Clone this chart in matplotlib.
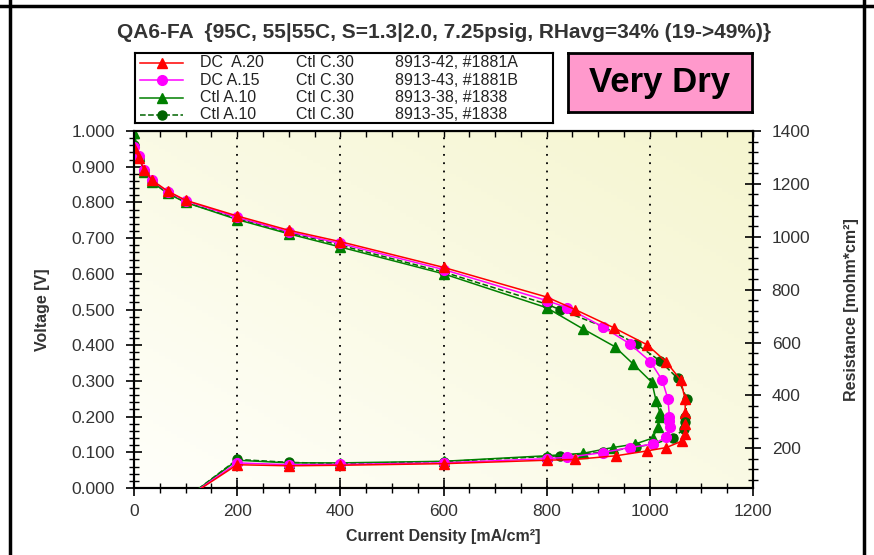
import numpy as np
import matplotlib.pyplot as plt
from matplotlib.colors import LinearSegmentedColormap
from matplotlib.ticker import MultipleLocator, FormatStrFormatter
from matplotlib.lines import Line2D

plt.rcParams['font.family'] = ['Liberation Sans', 'DejaVu Sans']

# 8913-42  DC A.20 / Ctl C.30  (#1881A)
j_42 = [0, 10, 20, 35, 65, 100, 200, 300, 400, 600, 800, 855, 930, 995, 1032, 1060, 1068, 1069]
v_42 = [0.952, 0.925, 0.890, 0.862, 0.832, 0.806, 0.762, 0.722, 0.690, 0.618, 0.535, 0.500,
        0.449, 0.401, 0.353, 0.302, 0.250, 0.210]
jr_42 = [100, 200, 300, 400, 600, 800, 855, 935, 994, 1032, 1063, 1068, 1069]
r_42 = [10, 138, 134, 136, 142, 155, 158, 172, 190, 203, 228, 253, 293]

# 8913-43  DC A.15 / Ctl C.30  (#1881B)
j_43 = [0, 10, 20, 35, 65, 100, 200, 300, 400, 600, 800, 840, 909, 961, 1001, 1024, 1035, 1038]
v_43 = [0.955, 0.930, 0.892, 0.862, 0.830, 0.805, 0.758, 0.718, 0.685, 0.612, 0.525, 0.505,
        0.451, 0.404, 0.354, 0.302, 0.250, 0.200]
jr_43 = [100, 200, 300, 400, 600, 800, 840, 909, 961, 1006, 1032, 1039, 1038]
r_43 = [10, 145, 138, 139, 145, 161, 166, 184, 203, 216, 242, 280, 305]

# 8913-38  Ctl A.10 / Ctl C.30  (#1838)
j_38 = [0, 10, 20, 35, 65, 100, 200, 300, 400, 600, 800, 870, 932, 968, 1004, 1012, 1020]
v_38 = [0.995, 0.930, 0.885, 0.857, 0.825, 0.800, 0.752, 0.712, 0.675, 0.600, 0.505, 0.446,
        0.396, 0.347, 0.296, 0.245, 0.210]
jr_38 = [100, 200, 300, 400, 600, 800, 870, 928, 971, 1006, 1015, 1020]
r_38 = [10, 155, 145, 145, 151, 172, 181, 203, 216, 239, 280, 317]

# 8913-35  Ctl A.10 / Ctl C.30  (#1838)
j_35 = [0, 10, 20, 35, 65, 100, 200, 300, 400, 600, 800, 825, 910, 973, 1019, 1054, 1072, 1069]
v_35 = [0.960, 0.925, 0.885, 0.857, 0.828, 0.800, 0.755, 0.716, 0.680, 0.605, 0.515, 0.500,
        0.452, 0.404, 0.357, 0.307, 0.250, 0.198]
jr_35 = [100, 200, 300, 400, 600, 800, 825, 910, 973, 1006, 1045, 1066, 1069]
r_35 = [10, 158, 147, 142, 150, 169, 172, 185, 205, 216, 239, 273, 300]

series = [
    # (label cols, j, V, jR, R, color, marker, ms, ls)
    (('Ctl A.10', 'Ctl C.30', '8913-35, #1838'), j_35, v_35, jr_35, r_35, '#006400', 'o', 6.5, '--'),
    (('Ctl A.10', 'Ctl C.30', '8913-38, #1838'), j_38, v_38, jr_38, r_38, '#008000', '^', 7, '-'),
    (('DC A.15', 'Ctl C.30', '8913-43, #1881B'), j_43, v_43, jr_43, r_43, '#FF00FF', 'o', 7, '-'),
    (('DC  A.20', 'Ctl C.30', '8913-42, #1881A'), j_42, v_42, jr_42, r_42, '#FF0000', '^', 7.5, '-'),
]

W, H = 874, 555
fig = plt.figure(figsize=(W / 100, H / 100), dpi=100)
fig.patch.set_facecolor('white')

# outer frame
for xs, ys in [([10, 10], [0, H]), ([864, 864], [0, H]), ([0, W], [6, 6])]:
    fig.add_artist(Line2D([x / W for x in xs], [1 - y / H for y in ys],
                          color='black', lw=2.5, transform=fig.transFigure))

ax = fig.add_axes([134 / W, 1 - 488 / H, 619 / W, 357 / H])

# pale yellow background
yy, xx = np.mgrid[0:1:100j, 0:1:100j]
grad = (xx + yy) / 2
cmap = LinearSegmentedColormap.from_list('bg', ['#FFFFFA', '#F5F5CF'])
ax.imshow(grad, extent=[0, 1200, 1, 0], aspect='auto', cmap=cmap, zorder=0)

ax2 = ax.twinx()

for labels, j, v, jr, r, c, m, ms, ls in series:
    ax.plot(j, v, color=c, marker=m, ms=ms, lw=1.1, ls=ls, zorder=3)
    ax2.plot(jr, r, color=c, marker=m, ms=ms, lw=1.1, ls=ls, zorder=3)

ax.set_xlim(0, 1200)
ax.set_ylim(0, 1)
ax2.set_ylim(50, 1400)

ax.grid(axis='x', which='major', color='black', lw=1.3, linestyle=(0, (1.0, 3.6)))
ax.set_axisbelow(False)

ax.xaxis.set_major_locator(MultipleLocator(200))
ax.xaxis.set_minor_locator(MultipleLocator(50))
ax.yaxis.set_major_locator(MultipleLocator(0.1))
ax.yaxis.set_minor_locator(MultipleLocator(0.02))
ax.yaxis.set_major_formatter(FormatStrFormatter('%.3f'))
ax2.yaxis.set_major_locator(MultipleLocator(200))
ax2.yaxis.set_minor_locator(MultipleLocator(40))

tick_col = '#333333'
for a in (ax, ax2):
    a.tick_params(which='major', direction='inout', length=11, width=1.2,
                  labelsize=12.5, labelcolor=tick_col, pad=8)
    a.tick_params(which='minor', direction='inout', length=7, width=1.0)
    for s in a.spines.values():
        s.set_linewidth(1.5)
ax.tick_params(axis='x', pad=6)
ax2.set_yticks([200, 400, 600, 800, 1000, 1200, 1400])

top = ax.secondary_xaxis('top')
top.xaxis.set_major_locator(MultipleLocator(50))
top.tick_params(direction='in', length=4, width=1.0, labeltop=False)

ax.set_xlabel('Current Density [mA/cm²]', fontsize=11.5, fontweight='bold',
              color=tick_col, labelpad=7)
ax.set_ylabel('Voltage [V]', fontsize=11.5, fontweight='bold', color=tick_col, labelpad=16)
ax2.set_ylabel('Resistance [mohm*cm²]', fontsize=11.5, fontweight='bold',
               color=tick_col, labelpad=24)

fig.text(444 / W, 1 - 32 / H,
         'QA6-FA  {95C, 55|55C, S=1.3|2.0, 7.25psig, RHavg=34% (19->49%)}',
         ha='center', va='center', fontsize=15, fontweight='bold', color='#333333')

# legend box
lx0, ly0, lx1, ly1 = 135, 53, 553, 123.5
lax = fig.add_axes([lx0 / W, 1 - ly1 / H, (lx1 - lx0) / W, (ly1 - ly0) / H])
lax.set_xlim(0, lx1 - lx0)
lax.set_ylim(ly1 - ly0, 0)
lax.set_xticks([])
lax.set_yticks([])
for s in lax.spines.values():
    s.set_linewidth(1.5)
rows_y = [9.7, 27.2, 44.7, 62.0]
col_x = [65, 161, 260]
for (labels, j, v, jr, r, c, m, ms, ls), y in zip(series[::-1], rows_y):
    lax.plot([5, 48], [y, y], color=c, lw=1.1, ls=ls)
    lax.plot([27], [y], color=c, marker=m, ms=ms)
    for x, t in zip(col_x, labels):
        lax.text(x, y, t, ha='left', va='center', fontsize=11.5, color='#222222')

# condition tag
tax = fig.add_axes([568 / W, 1 - 112 / H, 184 / W, 59 / H])
tax.set_facecolor('#FF99CC')
tax.set_xticks([])
tax.set_yticks([])
for s in tax.spines.values():
    s.set_linewidth(2)
tax.text(0.5, 0.5, 'Very Dry', ha='center', va='center', fontsize=25,
         fontweight='bold', color='black', transform=tax.transAxes)

fig.savefig('out.png', dpi=100)
